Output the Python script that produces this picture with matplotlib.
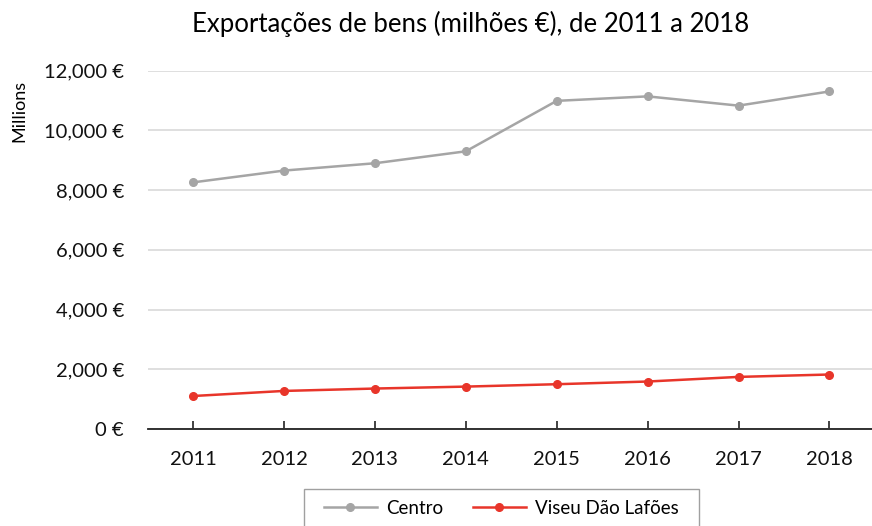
import matplotlib
matplotlib.use("Agg")
import matplotlib.pyplot as plt
from matplotlib.patches import Rectangle
from matplotlib.ticker import FuncFormatter

plt.rcParams["font.family"] = ["Lato", "DejaVu Sans"]

years = ["2011", "2012", "2013", "2014", "2015", "2016", "2017", "2018"]
centro = [8260, 8655, 8900, 9300, 10990, 11140, 10830, 11305]
viseu = [1105, 1275, 1355, 1420, 1500, 1590, 1745, 1825]

fig = plt.figure(figsize=(8.72, 5.26), dpi=100)
ax = fig.add_axes([0.1693, 0.1844, 0.834, 0.6812])

x = range(len(years))
ax.plot(x, centro, color="#A5A5A5", lw=1.8, marker="o", ms=5.5, label="Centro")
ax.plot(x, viseu, color="#E8352A", lw=1.8, marker="o", ms=5.5, label="Viseu Dão Lafões")

ax.set_xlim(-0.5, len(years) - 0.5)
ax.set_ylim(0, 12000)
ax.set_yticks(range(0, 12001, 2000))
ax.yaxis.set_major_formatter(FuncFormatter(lambda v, p: f"{v:,.0f} €"))
ax.set_xticks(list(x))
ax.set_xticklabels(years)

ax.grid(axis="y", color="#D9D9D9", lw=1.2)
ax.set_axisbelow(True)
for side in ["top", "right", "left"]:
    ax.spines[side].set_visible(False)
ax.spines["bottom"].set_color("#222222")
ax.spines["bottom"].set_linewidth(1.3)
ax.spines["bottom"].set_zorder(1)

ax.tick_params(axis="y", length=0, pad=17, labelsize=14.5, labelcolor="#111111")
ax.tick_params(axis="x", direction="in", length=6, width=1.2, color="#222222",
               pad=16, labelsize=14.5, labelcolor="#111111")

fig.text(0.022, 0.79, "Millions", rotation=90, ha="center", va="center", fontsize=13)
fig.text(0.54, 0.955, "Exportações de bens (milhões €), de 2011 a 2018",
         ha="center", va="center", fontsize=18.5)

# legend box drawn separately so it can be wider than the entries
fig.patches.append(Rectangle((304 / 872, -0.05), 395 / 872, 0.05 + 37 / 526,
                             transform=fig.transFigure, fill=False,
                             edgecolor="#A0A0A0", lw=1.0))
fig.legend(loc="center", bbox_to_anchor=(0.575, 0.034), ncol=2,
           frameon=False, fontsize=13.5, handlelength=2.8,
           columnspacing=1.6, handletextpad=0.5)

fig.savefig("out.png", dpi=100)
